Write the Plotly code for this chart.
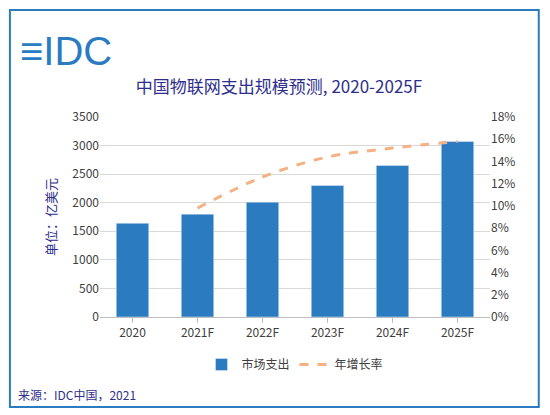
import plotly.graph_objects as go

years = ["2020", "2021F", "2022F", "2023F", "2024F", "2025F"]
spend = [1640, 1800, 2010, 2300, 2650, 3070]
growth_years = ["2021F", "2022F", "2023F", "2024F", "2025F"]
growth = [0.098, 0.126, 0.144, 0.152, 0.158]

fig = go.Figure()
fig.add_trace(go.Bar(x=years, y=spend, name="市场支出", marker_color="#2a7bbf", width=0.5))
fig.add_trace(go.Scatter(x=growth_years, y=growth, name="年增长率", yaxis="y2", mode="lines",
                         line=dict(color="#f4b183", width=3, dash="dash", shape="spline")))
font = "Noto Sans CJK SC"
fig.update_layout(
    width=542, height=407, paper_bgcolor="white", plot_bgcolor="white",
    margin=dict(l=92, r=60, t=109, b=98),
    font=dict(family=font, size=12, color="#404040"),
    title=dict(text="中国物联网支出规模预测, 2020-2025F", x=0.5, xanchor="center", y=0.82,
               font=dict(size=17, color="#2e2e8c", family=font)),
    yaxis=dict(range=[0, 3500], dtick=500, gridcolor="#d9d9d9", showline=False, zeroline=False,
               title=dict(text="单位：亿美元", font=dict(color="#2e2e8c", size=13), standoff=12)),
    yaxis2=dict(range=[0, 0.18], dtick=0.02, tickformat=".0%", overlaying="y", side="right",
                showgrid=False, zeroline=False),
    xaxis=dict(showline=True, linecolor="#bfbfbf", ticks="outside", tickcolor="#bfbfbf"),
    legend=dict(orientation="h", x=0.5, xanchor="center", y=-0.165, font=dict(size=12)),
    shapes=[dict(type="rect", xref="paper", yref="paper", x0=-0.231, x1=1.125, y0=-0.45, y1=1.535,
                 line=dict(color="#2a7bbf", width=2))],
)
fig.add_annotation(text="≡IDC", xref="paper", yref="paper", x=-0.21, y=1.45, xanchor="left",
                   showarrow=False, font=dict(size=40, color="#2a7bbf", family="Liberation Sans"))
fig.add_annotation(text="来源：IDC中国，2021", xref="paper", yref="paper", x=-0.215, y=-0.44,
                   xanchor="left", yanchor="bottom", showarrow=False, font=dict(size=12, color="#2e2e8c"))
fig.write_html("out.html")
